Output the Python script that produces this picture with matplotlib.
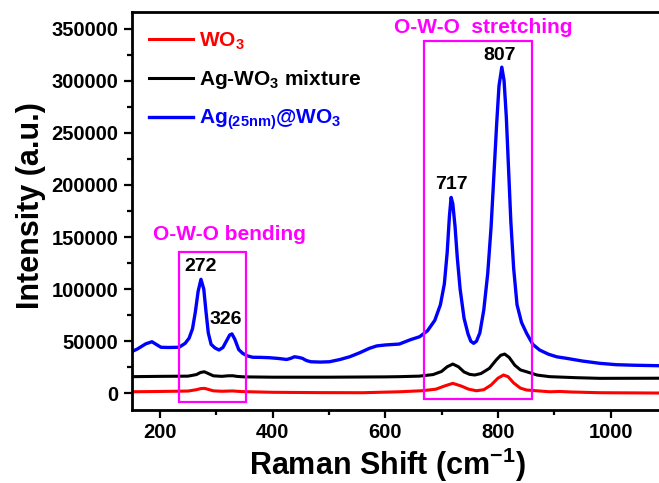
import matplotlib
matplotlib.use("Agg")
import matplotlib.pyplot as plt
from matplotlib.patches import Rectangle

plt.rcParams["font.family"] = ["Liberation Sans", "DejaVu Sans"]
plt.rcParams["font.weight"] = "bold"
plt.rcParams["mathtext.fontset"] = "custom"
plt.rcParams["mathtext.rm"] = "Liberation Sans:bold"
plt.rcParams["mathtext.bf"] = "Liberation Sans:bold"
plt.rcParams["mathtext.it"] = "Liberation Sans:bold"
plt.rcParams["mathtext.default"] = "bf"

# Ag(25nm)@WO3 spectrum
blue_x = [150, 160, 175, 186, 195, 202, 215, 234, 245, 252, 258, 263, 268, 273,
          278, 282, 286, 291, 298, 305, 312, 318, 324, 328, 333, 340, 347, 355,
          365, 380, 394, 410, 425, 432, 439, 446, 453, 460, 468, 485, 501, 520,
          537, 555, 572, 585, 600, 625, 645, 661, 675, 688, 698, 705, 710, 714,
          717, 720, 724, 728, 733, 740, 747, 752, 757, 762, 768, 775, 782, 788,
          793, 798, 802, 807, 811, 815, 819, 823, 828, 834, 842, 851, 862, 874,
          890, 905, 922, 950, 981, 1010, 1040, 1086]
blue_y = [40000, 42500, 47500, 49500, 46500, 44200, 44000, 44200, 48000, 53000,
          62000, 78000, 98000, 109400, 100000, 78000, 58000, 47000, 43500, 41600,
          44000, 50000, 56000, 57000, 52000, 42000, 38400, 36000, 34600, 34500,
          34200, 33500, 32500, 33500, 35100, 34500, 33600, 31500, 30300, 30000,
          30300, 32500, 35100, 39000, 43200, 45500, 46400, 47300, 51500, 54300,
          60000, 70000, 85000, 105000, 135000, 170000, 188000, 182000, 160000,
          130000, 100000, 72000, 57000, 50000, 48000, 50000, 58000, 80000, 115000,
          160000, 210000, 260000, 295000, 313000, 300000, 265000, 215000, 165000,
          120000, 85000, 68000, 57600, 47000, 41600, 37500, 35000, 33600, 31000,
          28800, 27500, 27000, 26500]

# Ag-WO3 mixture
black_x = [150, 200, 250, 265, 272, 279, 286, 295, 310, 320, 329, 338, 350, 400,
           500, 600, 625, 660, 685, 700, 710, 720, 730, 740, 750, 759, 770, 785,
           797, 805, 812, 820, 830, 840, 851, 870, 892, 940, 981, 1086]
black_y = [16000, 16300, 16500, 18000, 20000, 20700, 19000, 16800, 16300, 16800,
           16900, 16200, 15800, 15500, 15500, 15800, 16000, 16500, 18000, 21000,
           25500, 28100, 25500, 20500, 18200, 17600, 19000, 24000, 32000, 36500,
           37700, 34500, 27000, 22500, 20700, 17500, 16000, 15000, 14400, 14500]

# WO3
red_x = [150, 200, 250, 265, 272, 279, 286, 295, 310, 329, 345, 400, 480, 560,
         625, 665, 690, 705, 720, 735, 748, 762, 775, 788, 800, 810, 818, 828,
         840, 851, 892, 910, 930, 981, 1086]
red_y = [1500, 1800, 2200, 3500, 4500, 4800, 3800, 2400, 2000, 2300, 1700, 1000,
         700, 600, 1500, 2500, 4000, 7000, 9600, 7000, 4000, 2500, 3500, 8000,
         14500, 17600, 16000, 10000, 5000, 3200, 1500, 1800, 1300, 600, 300]

# band regions (x0, x1, y0, y1) and peak labels
bend_box = (234, 353, -8100, 135900)
stretch_box = (669, 861, -5800, 338500)
peak_labels = ["272", "326", "717", "807"]
peak_label_x = [272, 317, 717, 803]
peak_label_y = [121500, 71000, 200000, 323800]

fig = plt.figure(figsize=(6.59, 4.83), dpi=100)
ax = fig.add_axes([0.1998, 0.1511, 0.8002, 0.8234])

ax.plot(red_x, red_y, color="#ff0000", lw=2.2, label="WO$_3$")
ax.plot(black_x, black_y, color="black", lw=2.2, label="Ag-WO$_3$ mixture")
ax.plot(blue_x, blue_y, color="#0000ff", lw=2.4, label="Ag$_{(25nm)}$@WO$_3$")

for x0, x1, y0, y1 in (bend_box, stretch_box):
    ax.add_patch(Rectangle((x0, y0), x1 - x0, y1 - y0, fill=False,
                           edgecolor="#ff00ff", lw=1.6, zorder=3))

ax.text(324, 152000, "O-W-O bending", color="#ff00ff", fontsize=15,
        ha="center", va="center")
ax.text(774, 350700, "O-W-O  stretching", color="#ff00ff", fontsize=15,
        ha="center", va="center")
for lab, lx, ly in zip(peak_labels, peak_label_x, peak_label_y):
    ax.text(lx, ly, lab, fontsize=14, ha="center", va="center")

ax.set_xlim(150, 1086)
ax.set_ylim(-16000, 365600)
ax.set_xticks(range(200, 1001, 200))
ax.set_xticks(range(300, 1001, 200), minor=True)
ax.set_yticks(range(0, 350001, 50000))
ax.set_yticks(range(25000, 350001, 50000), minor=True)
ax.tick_params(which="major", direction="out", length=6, width=1.6,
               labelsize=14.5, pad=3.5)
ax.tick_params(which="minor", direction="out", length=3.5, width=1.6)
for side in ("left", "bottom", "top"):
    ax.spines[side].set_linewidth(2)
ax.spines["right"].set_visible(False)

ax.set_xlabel("Raman Shift (cm$^{-1}$)", fontsize=22, fontweight="bold")
ax.set_ylabel("Intensity (a.u.)", fontsize=22, fontweight="bold")
ax.xaxis.set_label_coords(0.484, -0.09)
ax.yaxis.set_label_coords(-0.162, 0.515)

leg = ax.legend(loc="upper left", bbox_to_anchor=(0.033, 0.955), frameon=False,
                fontsize=15, handlelength=2.1, handletextpad=0.3,
                labelspacing=0.8, borderpad=0, borderaxespad=0,
                labelcolor="linecolor")

fig.savefig("out.png", dpi=100)
